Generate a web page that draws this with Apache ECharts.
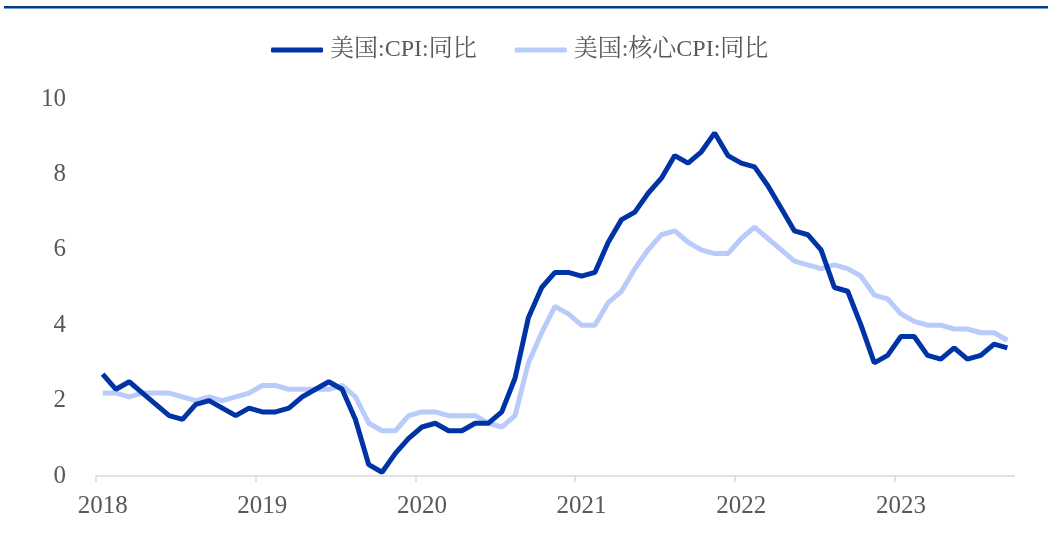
<!DOCTYPE html>
<html>
<head>
<meta charset="utf-8">
<script src="https://cdn.jsdelivr.net/npm/echarts@6/dist/echarts.min.js"></script>
<style>html,body{margin:0;padding:0;background:#fff}#c{width:1048px;height:533px}</style>
</head>
<body>
<div id="c"></div>
<script>
var yearLabels = ['2018', '2019', '2020', '2021', '2022', '2023'];
var seriesNames = ['美国:CPI:同比', '美国:核心CPI:同比'];
var cpi = [2.7, 2.3, 2.5, 2.2, 1.9, 1.6, 1.5, 1.9, 2.0, 1.8, 1.6, 1.8,
           1.7, 1.7, 1.8, 2.1, 2.3, 2.5, 2.3, 1.5, 0.3, 0.1, 0.6, 1.0,
           1.3, 1.4, 1.2, 1.2, 1.4, 1.4, 1.7, 2.6, 4.2, 5.0, 5.4, 5.4,
           5.3, 5.4, 6.2, 6.8, 7.0, 7.5, 7.9, 8.5, 8.3, 8.6, 9.1, 8.5,
           8.3, 8.2, 7.7, 7.1, 6.5, 6.4, 6.0, 5.0, 4.9, 4.0, 3.0, 3.2,
           3.7, 3.7, 3.2, 3.1, 3.4, 3.1, 3.2, 3.5, 3.4];
var coreCpi = [2.2, 2.2, 2.1, 2.2, 2.2, 2.2, 2.1, 2.0, 2.1, 2.0, 2.1, 2.2,
               2.4, 2.4, 2.3, 2.3, 2.3, 2.3, 2.4, 2.1, 1.4, 1.2, 1.2, 1.6,
               1.7, 1.7, 1.6, 1.6, 1.6, 1.4, 1.3, 1.6, 3.0, 3.8, 4.5, 4.3,
               4.0, 4.0, 4.6, 4.9, 5.5, 6.0, 6.4, 6.5, 6.2, 6.0, 5.9, 5.9,
               6.3, 6.6, 6.3, 6.0, 5.7, 5.6, 5.5, 5.6, 5.5, 5.3, 4.8, 4.7,
               4.3, 4.1, 4.0, 4.0, 3.9, 3.9, 3.8, 3.8, 3.6];

var categories = [];
for (var i = 0; i < cpi.length; i++) {
  categories.push(i % 12 === 0 ? yearLabels[i / 12] : String(i));
}

var font = '"Times New Roman", "Liberation Serif", "Noto Serif CJK SC", "Noto Sans CJK SC", serif';
var chart = echarts.init(document.getElementById('c'));
chart.setOption({
  animation: false,
  backgroundColor: '#fff',
  graphic: [{
    type: 'rect', left: 4, top: 6, shape: { width: 1044, height: 2.5 },
    style: { fill: '#003F8C' }, silent: true
  }, {
    type: 'rect', left: 1009, top: 477, shape: { width: 10, height: 8 },
    style: { fill: '#ffffff' }, silent: true, z: 100
  }],
  legend: {
    top: 33, left: 266,
    itemWidth: 52, itemHeight: 5, itemGap: 38,
    icon: 'roundRect',
    textStyle: { fontFamily: font, fontSize: 24, color: '#595959', padding: [0, 0, 0, 2] },
    data: seriesNames
  },
  grid: { left: 96, right: 34, top: 99, bottom: 57, containLabel: false },
  xAxis: {
    type: 'category',
    boundaryGap: true,
    data: categories,
    axisLine: { lineStyle: { color: '#d9d9d9', width: 1.5 } },
    axisTick: {
      show: true, length: 6, lineStyle: { color: '#d9d9d9', width: 1.5 },
      interval: function (idx) { return idx % 12 === 0; }
    },
    axisLabel: {
      interval: function (idx) { return idx % 12 === 0; },
      fontFamily: font, fontSize: 25, color: '#595959', margin: 18
    },
    splitLine: { show: false }
  },
  yAxis: {
    type: 'value', min: 0, max: 10, interval: 2,
    axisLine: { show: false }, axisTick: { show: false },
    splitLine: { show: false },
    axisLabel: { fontFamily: font, fontSize: 25, color: '#595959', margin: 30 }
  },
  series: [
    {
      name: seriesNames[0], type: 'line', data: cpi, showSymbol: false, symbol: 'none',
      lineStyle: { color: '#0033A6', width: 5 }, itemStyle: { color: '#0033A6' }, z: 3
    },
    {
      name: seriesNames[1], type: 'line', data: coreCpi, showSymbol: false, symbol: 'none',
      lineStyle: { color: '#B8CBFA', width: 5 }, itemStyle: { color: '#B8CBFA' }, z: 2
    }
  ]
});
</script>
</body>
</html>
